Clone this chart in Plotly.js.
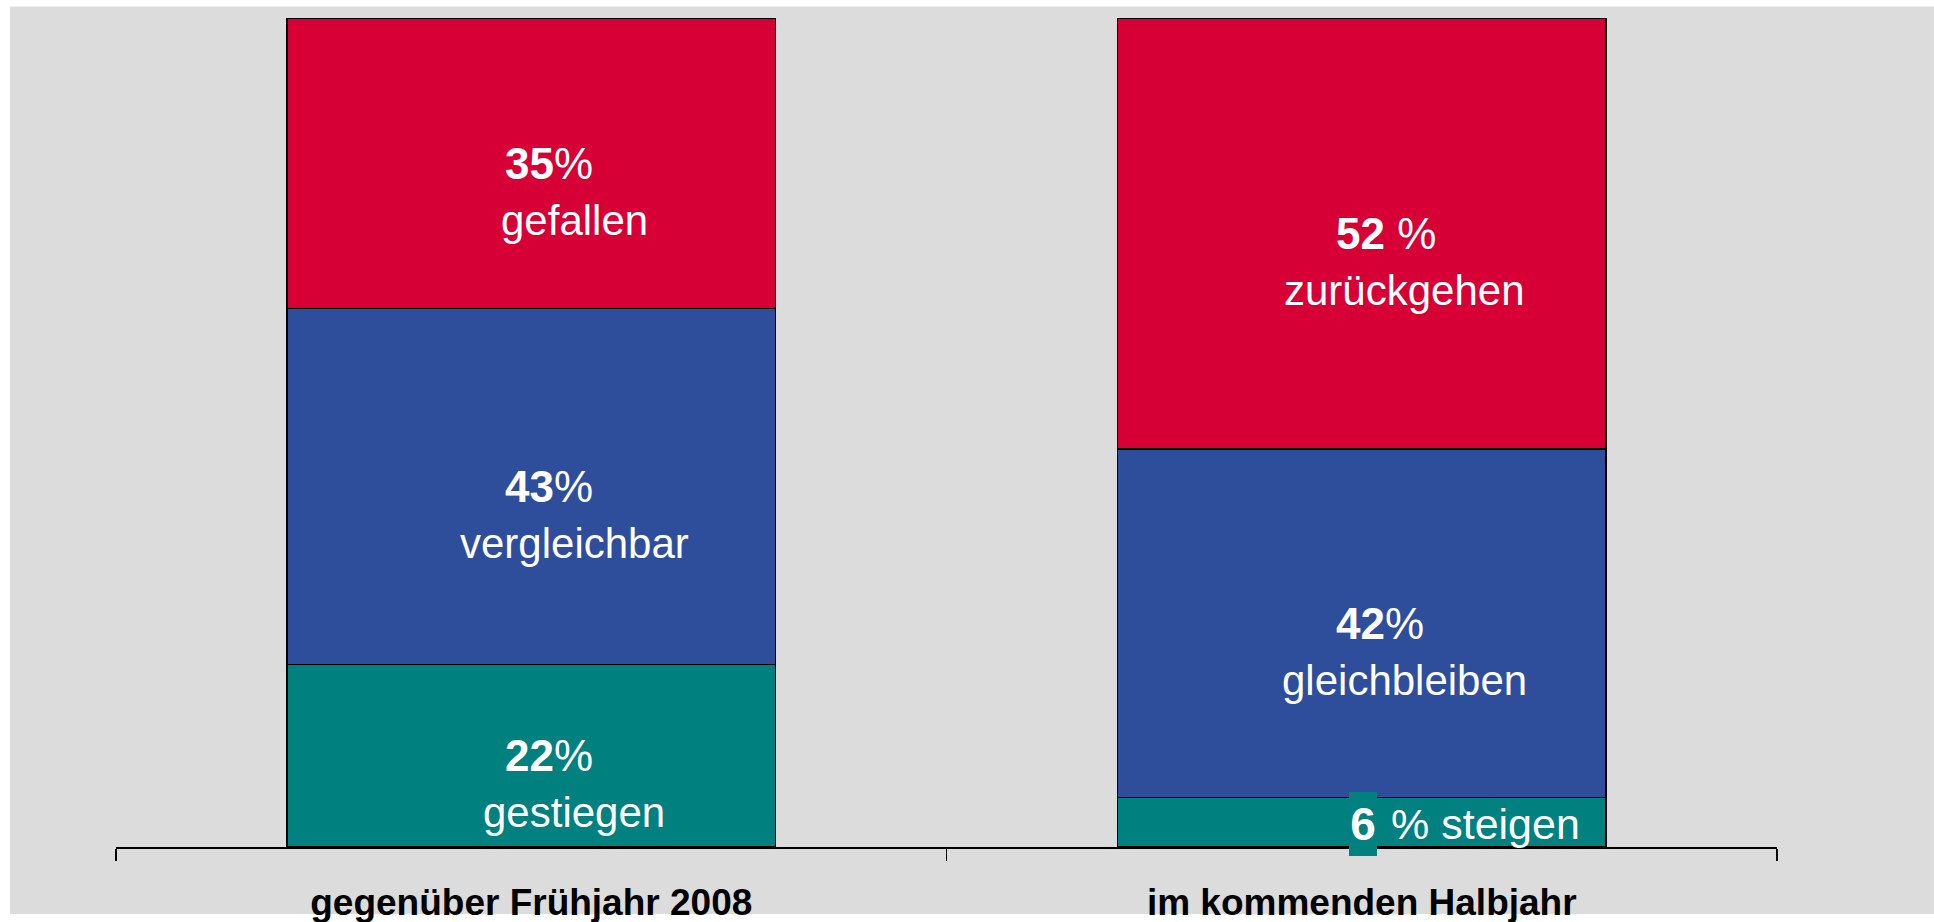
<!DOCTYPE html>
<html>
<head>
<meta charset="utf-8">
<script src="https://cdn.plot.ly/plotly-3.0.1.min.js"></script>
<style>
  html, body { margin: 0; padding: 0; background: #ffffff; }
  #chart { width: 1934px; height: 922px; }
</style>
</head>
<body>
<div id="chart"></div>
<script>
// ---- data ----
const categories = ["gegenüber Frühjahr 2008", "im kommenden Halbjahr"];
const seriesNames = ["steigen", "gleich", "fallen"];
const valuesUp    = [22, 6];
const valuesSame  = [43, 42];
const valuesDown  = [35, 52];
const wordsUp     = ["gestiegen", "steigen"];
const wordsSame   = ["vergleichbar", "gleichbleiben"];
const wordsDown   = ["gefallen", "zurückgehen"];
const pctSep      = [["", ""], ["", ""], ["", " "]]; // spacing between number and % per series/category

const colors = { up: "#00807F", same: "#2E4E9C", down: "#D70036" };
const FONT = "Liberation Sans, Arial, sans-serif";

const seriesValues = [valuesUp, valuesSame, valuesDown];
const seriesColors = [colors.up, colors.same, colors.down];
const seriesWords = [wordsUp, wordsSame, wordsDown];

const traces = seriesValues.map((vals, i) => ({
  type: "bar",
  name: seriesNames[i],
  x: categories,
  y: vals,
  marker: { color: seriesColors[i], line: { color: "#000000", width: 1.3 } },
  hoverinfo: "skip",
  showlegend: false
}));

// ---- annotations built from data ----
const annotations = [];
categories.forEach((cat, ci) => {
  let base = 0;
  seriesValues.forEach((vals, si) => {
    const v = vals[ci];
    const mid = base + v / 2;
    base += v;
    const small = v < 10;
    if (!small) {
      annotations.push({
        x: cat, y: mid, xref: "x", yref: "y",
        text: "<b>" + v + "</b>" + pctSep[si][ci] + "%",
        showarrow: false, xanchor: "left", yanchor: "middle", xshift: -28,
        font: { family: FONT, size: 44, color: "#ffffff" }
      });
      annotations.push({
        x: cat, y: mid, xref: "x", yref: "y",
        text: seriesWords[si][ci],
        showarrow: false, xanchor: "center", yanchor: "middle", xshift: 43, yshift: -57,
        font: { family: FONT, size: 42, color: "#ffffff" }
      });
    } else {
      annotations.push({
        x: cat, y: mid, xref: "x", yref: "y",
        text: "<b>" + v + "</b>",
        showarrow: false, xanchor: "center", yanchor: "middle", xshift: 1, yshift: -2,
        width: 28, height: 64,
        bgcolor: seriesColors[si], borderpad: 0, borderwidth: 0,
        font: { family: FONT, size: 46, color: "#ffffff" }
      });
      annotations.push({
        x: cat, y: mid, xref: "x", yref: "y",
        text: "% " + seriesWords[si][ci],
        showarrow: false, xanchor: "left", yanchor: "middle", xshift: 27, yshift: -2,
        font: { family: FONT, size: 43, color: "#ffffff" }
      });
    }
  });
});

const layout = {
  width: 1934, height: 922,
  margin: { l: 116, r: 157, t: 18, b: 75, pad: 0 },
  paper_bgcolor: "#ffffff",
  plot_bgcolor: "rgba(0,0,0,0)",
  barmode: "stack",
  bargap: 0.412,
  showlegend: false,
  font: { family: FONT },
  xaxis: {
    type: "category",
    range: [-0.5, 1.5],
    showline: true, linecolor: "#000000", linewidth: 1.5,
    ticks: "outside", tickson: "boundaries", ticklen: 12, tickwidth: 1.3, tickcolor: "#000000",
    tickfont: { family: FONT, size: 37, color: "#000000", weight: "bold" },
    ticklabelstandoff: 22,
    showgrid: false, zeroline: false, fixedrange: true
  },
  yaxis: {
    range: [0, 100],
    visible: false, showgrid: false, zeroline: false, fixedrange: true
  },
  shapes: [{
    type: "rect", xref: "paper", yref: "paper",
    x0: -0.0638, x1: 1.0945, y0: -0.0809, y1: 1.0139,
    fillcolor: "#DCDCDC", line: { width: 0 }, layer: "below"
  }],
  annotations: annotations
};

Plotly.newPlot("chart", traces, layout, { displayModeBar: false, staticPlot: true });
</script>
</body>
</html>
